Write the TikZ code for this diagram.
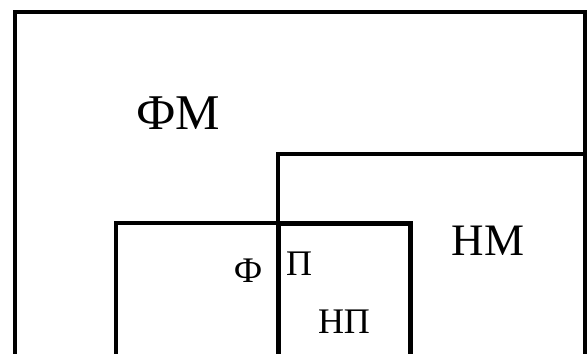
\documentclass[tikz,border=0pt]{standalone}
\usepackage{fontspec}
\setmainfont{Liberation Serif}
\usetikzlibrary{positioning}
\tikzset{
    % Frames
    set frame/.style={draw=black,line width=3.5pt,line join=miter},
    part frame/.style={set frame,line width=5pt},
    %
    % Labels
    big label/.style={anchor=base,inner sep=0pt,font=\fontsize{50}{50}\selectfont},
    mid label/.style={anchor=base,inner sep=0pt,font=\fontsize{45}{45}\selectfont},
    small label/.style={anchor=base,inner sep=0pt,font=\fontsize{36}{36}\selectfont}
}

\begin{document}
\begin{tikzpicture}[x=1pt,y=-1pt]
    \useasboundingbox (0,0) rectangle (588,353);
    \clip (0,0) rectangle (588,353);

    \draw[set frame] (15,12) rectangle (585,400);
    \draw[set frame] (278,154) rectangle (585,400);
    \draw[set frame] (116,223) rectangle (278,400);
    \draw[part frame] (278,223) rectangle (410,400);

    \node[big label] (fm) at (178,129) {ФМ};
    \node[mid label] (nm) at (488,255) {НМ};
    \node[small label] (f) at (248,282) {Ф};
    \node[small label] (p) at (299,275) {П};
    \node[small label] (np) at (344,333) {НП};
\end{tikzpicture}
\end{document}
